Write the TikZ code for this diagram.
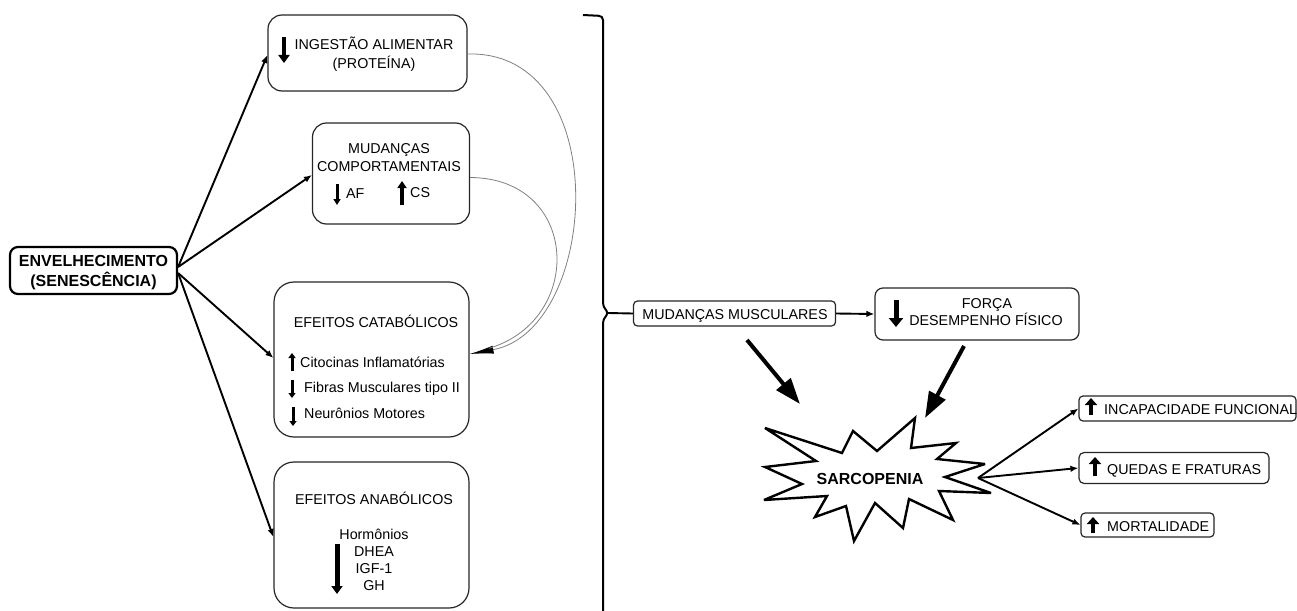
\documentclass[tikz,border=0pt]{standalone}
\usepackage{fontspec}
\setmainfont{Liberation Sans}
\usetikzlibrary{arrows.meta}
\tikzset{
  rbox/.style={draw=black!85, line width=1.2pt, rounded corners=#1, inner sep=0pt, fill=white},
  rbox/.default=14pt,
  txt/.style={inner sep=0pt, anchor=base, font=\fontsize{14.3}{17}\selectfont},
  txtl/.style={txt, anchor=base west},
  btxt/.style={inner sep=0pt, anchor=base, font=\fontsize{16}{19}\selectfont\bfseries},
  conn/.style={line width=1.9pt, -{Latex[length=8pt,width=6.5pt]}},
  barrow/.style n args={3}{line width=#1, -{Triangle[length=#2,width=#3]}},
  bigarrow/.style={line width=4pt, -{Triangle[length=26pt,width=18pt]}},
  gcurve/.style={draw=black!50, line width=0.8pt},
}
\begin{document}
\begin{tikzpicture}[x=1pt,y=-1pt]
\useasboundingbox (0,0) rectangle (1297,610);

% boxes
\node[rbox=8pt, draw=black, line width=2.2pt, minimum width=167pt, minimum height=47pt] (env) at (93.5,270.5) {};
\node[rbox=14pt, minimum width=199pt, minimum height=76pt] (ing) at (367.5,53) {};
\node[rbox=14pt, minimum width=157pt, minimum height=101pt] (comp) at (391,173.5) {};
\node[rbox=20pt, minimum width=195pt, minimum height=155pt] (cat) at (371.5,359.5) {};
\node[rbox=20pt, minimum width=195pt, minimum height=146pt] (ana) at (371.5,535) {};
\node[rbox=4pt, minimum width=202pt, minimum height=25pt] (mm) at (734.5,313.5) {};
\node[rbox=8pt, minimum width=204pt, minimum height=52pt] (forca) at (977,314) {};
\node[rbox=4pt, minimum width=217pt, minimum height=25pt] (inc) at (1187.5,408.5) {};
\node[rbox=5pt, minimum width=190pt, minimum height=31pt] (qf) at (1174,468) {};
\node[rbox=4pt, minimum width=133pt, minimum height=24pt] (mort) at (1147.5,525) {};

% texts
\node[btxt] (envt1) at (93.5,266) {ENVELHECIMENTO};
\node[btxt] (envt2) at (93.5,286) {(SENESCÊNCIA)};

\node[txt] (ingt1) at (374,50) {INGESTÃO ALIMENTAR};
\node[txt] (ingt2) at (374,68) {(PROTEÍNA)};
\draw[barrow={4.5pt}{8pt}{11pt}] (284,37) -- (284,63);

\node[txt] (compt1) at (389,153) {MUDANÇAS};
\node[txt] (compt2) at (389,171) {COMPORTAMENTAIS};
\node[txtl] (af) at (346,198) {AF};
\node[txtl] (cs) at (410,197) {CS};
\draw[barrow={3pt}{6pt}{7pt}] (337,184) -- (337,205);
\draw[barrow={4pt}{7pt}{9pt}] (402,205) -- (402,181);

\node[txt] (catt) at (376,327) {EFEITOS CATABÓLICOS};
\node[txtl] (cat1) at (300,367) {Citocinas Inflamatórias};
\node[txtl] (cat2) at (304,392) {Fibras Musculares tipo II};
\node[txtl] (cat3) at (304,418) {Neurônios Motores};
\draw[barrow={3pt}{5pt}{7pt}] (292,371) -- (292,353);
\draw[barrow={3pt}{5pt}{7pt}] (292,380) -- (292,398);
\draw[barrow={3pt}{5pt}{7pt}] (293,407) -- (293,426);

\node[txt] (anat) at (374,504) {EFEITOS ANABÓLICOS};
\node[txt] (ana1) at (374,539) {Hormônios};
\node[txt] (ana2) at (374,556) {DHEA};
\node[txt] (ana3) at (374,573) {IGF-1};
\node[txt] (ana4) at (374,590) {GH};
\draw[barrow={5pt}{8pt}{11pt}] (337,544) -- (337,594);

\node[txt] (mmt) at (735,319) {MUDANÇAS MUSCULARES};
\node[txt] (ft1) at (987,308) {FORÇA};
\node[txt] (ft2) at (986,325) {DESEMPENHO FÍSICO};
\draw[barrow={5pt}{9pt}{14pt}] (896,300) -- (896,327);

\node[txtl] (inct) at (1104,414) {INCAPACIDADE FUNCIONAL};
\node[txtl] (qft) at (1107,474) {QUEDAS E FRATURAS};
\node[txtl] (mortt) at (1107,531) {MORTALIDADE};
\draw[barrow={4.5pt}{7pt}{12pt}] (1091,415) -- (1091,398);
\draw[barrow={4.5pt}{7pt}{12pt}] (1095,476) -- (1095,457);
\draw[barrow={4.5pt}{7pt}{12pt}] (1093,533) -- (1093,517);

% star
\draw[line width=2.4pt, fill=white, miter limit=4]
 (765,428) -- (842,453) -- (853,431) -- (877,451) -- (915,418) -- (911,448) --
 (956,443) -- (937,459) -- (985,464) -- (945,477) -- (991,493) -- (939,491) --
 (953,520) -- (909,499) -- (903,528) -- (875,503) -- (854,541) -- (846,506) --
 (815,517) -- (827,496) -- (764,500) -- (802,484) -- (765,467) -- (816,461) -- cycle;
\node[btxt] (sarc) at (870,484) {SARCOPENIA};

% connectors from envelhecimento
\draw[conn] ([yshift=3.5pt]env.east) -- ([yshift=-2pt]ing.west);
\draw[conn] ([yshift=3.5pt]env.east) -- ([yshift=-1.5pt]comp.west);
\draw[conn] ([yshift=-2.5pt]env.east) -- ([yshift=1.5pt]cat.west);
\draw[conn] ([yshift=-2.5pt]env.east) -- ([yshift=-2pt]ana.west);

% gray curves
\draw[gcurve, -{Latex[length=24pt,width=8pt,color=black]}] ([yshift=-1pt]ing.east) .. controls (615,50) and (600,330) .. ([yshift=5.5pt]cat.east);
\draw[gcurve, shorten >=20pt] ([yshift=-4pt]comp.east) .. controls (580,178) and (585,320) .. ([yshift=5.5pt]cat.east);

% bracket
\draw[line width=2pt, rounded corners=4pt] (583,15) -- (603,16) -- (603,307) -- (609,313) -- (603,319) -- (603,612);
\coordinate (btip) at (608,313);
\draw[line width=1.9pt] (btip) -- (mm.west);

% muscle changes to strength
\draw[conn] (mm.east) -- (forca.west);

% big arrows
\coordinate (a1s) at (747,340);
\coordinate (a1e) at (800,404);
\coordinate (a2s) at (964,346);
\coordinate (a2e) at (925,418);
\draw[bigarrow] (a1s) -- (a1e);
\draw[bigarrow] (a2s) -- (a2e);

% outcomes
\coordinate (sr) at (978,478);
\draw[conn] (sr) -- (inc.west);
\draw[conn] (sr) -- (qf.west);
\draw[conn] (sr) -- (mort.west);
\end{tikzpicture}
\end{document}
